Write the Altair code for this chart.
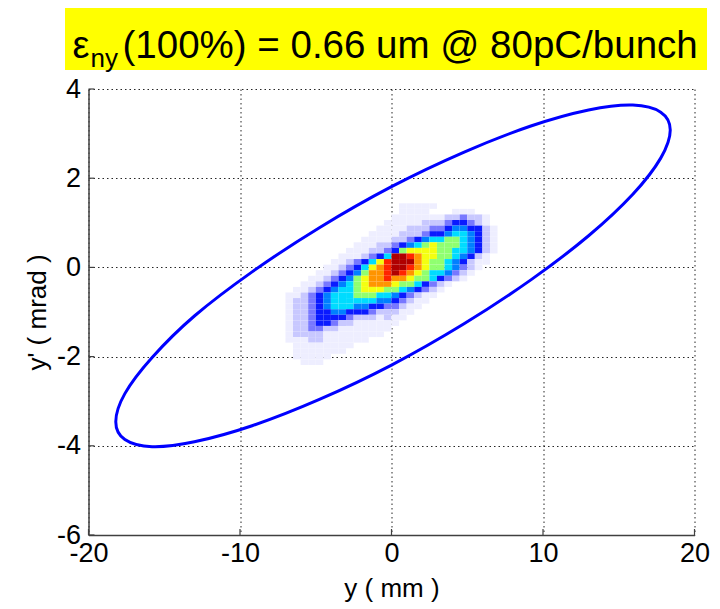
import altair as alt
import pandas as pd

FONT = "Liberation Sans"

# axis ticks
x_ticks = [-20, -10, 0, 10, 20]
y_ticks = [-6, -4, -2, 0, 2, 4]

# emittance ellipse: points (y in mm, y' in mrad)
ell_x = [18.40, 17.77, 15.93, 13.01, 9.20, 4.76, 0.00, -4.76, -9.20, -13.01, -15.80, -17.60,
         -18.20, -17.60, -15.80, -13.01, -9.20, -4.76, 0.00, 4.76, 9.20, 13.01, 15.93, 17.77]
ell_y = [3.08, 3.48, 3.64, 3.53, 3.17, 2.58, 1.81, 0.89, -0.10, -1.09, -2.02, -2.83,
         -3.46, -3.86, -4.02, -3.91, -3.55, -2.96, -2.19, -1.27, -0.28, 0.71, 1.64, 2.45]

# beam density: grid cells of 0.5 mm x 0.125 mrad
grid_x0 = -6.75   # centre of first column
grid_y0 = 1.375   # centre of first row
grid_dx = 0.5
grid_dy = 0.125
density_rows = [
    "00000000000000011111000000000",
    "00000000000000011110001110000",
    "00000000000000111111122322100",
    "00000000000001111122234432100",
    "00000000000011112223345544210",
    "00000000000111122234456654210",
    "00000000001111223456677654210",
    "00000000011122345678777654210",
    "00000000111223478888776654210",
    "00000001112346ddr988776542100",
    "0000001123468rddd987765421100",
    "0000011234689rddr987765321000",
    "0000112345799rdr9876653210000",
    "0001123457899r998776432100000",
    "00112345678999877643210000000",
    "01123456678887765432100000000",
    "11234566677766543211000000000",
    "12234566666655432110000000000",
    "12234566655443321100000000000",
    "12234455444322211000000000000",
    "12234444322212110000000000000",
    "12234432211111100000000000000",
    "12233221111111000000000000000",
    "12222111111110000000000000000",
    "11122111111000000000000000000",
    "01111111100000000000000000000",
    "01111111000000000000000000000",
    "01111100000000000000000000000",
    "00111000000000000000000000000",
]
level_codes = ["1", "2", "3", "4", "5", "6", "7", "8", "9", "r", "d"]
level_colors = ["#eeeeff", "#c8c8ff", "#7878ff", "#0a1aff", "#0080ff", "#00dcff",
                "#90ff70", "#f4ff10", "#ff9400", "#ff2400", "#b00000"]

cells = []
for j, row in enumerate(density_rows):
    yc = grid_y0 - j * grid_dy
    for i, c in enumerate(row):
        if c == "0":
            continue
        xc = grid_x0 + i * grid_dx
        cells.append(dict(x=xc - grid_dx / 2, x2=xc + grid_dx / 2,
                          y=yc - grid_dy / 2, y2=yc + grid_dy / 2, level=c))
cells_df = pd.DataFrame(cells)
ell_df = pd.DataFrame({"order": list(range(len(ell_x))), "y_mm": ell_x, "yp": ell_y})

W, H = 606, 446

xscale = alt.Scale(domain=[-20, 20], nice=False, zero=False)
yscale = alt.Scale(domain=[-6, 4], nice=False, zero=False)

common = dict(grid=True, gridDash=[1.5, 3], gridColor="#000000", gridWidth=1,
              gridOpacity=0.85, domainColor="#404040", domainWidth=1.5, ticks=False,
              labelFont=FONT, labelFontSize=27, labelColor="black",
              labelFlush=False, labelOverlap=False, labelExpr="'' + datum.value",
              titleFont=FONT, titleFontSize=26, titleFontWeight="normal", titleColor="black")
xaxis = alt.Axis(values=x_ticks, labelPadding=5, title="y ( mm )", titlePadding=9, **common)
yaxis = alt.Axis(values=y_ticks, labelPadding=8, title="y' ( mrad )", titlePadding=6, **common)

heat = alt.Chart(cells_df).mark_rect(strokeWidth=0).encode(
    x=alt.X("x:Q", scale=xscale, axis=xaxis),
    x2="x2:Q",
    y=alt.Y("y:Q", scale=yscale, axis=yaxis),
    y2="y2:Q",
    color=alt.Color("level:N", scale=alt.Scale(domain=level_codes, range=level_colors), legend=None),
)

ellipse = alt.Chart(ell_df).mark_line(interpolate="cardinal-closed", color="#0000ff", strokeWidth=3).encode(
    x=alt.X("y_mm:Q", scale=xscale),
    y=alt.Y("yp:Q", scale=yscale),
    order="order:Q",
)

# inward tick marks
xt_df = pd.DataFrame({"t": x_ticks})
yt_df = pd.DataFrame({"t": y_ticks})
xticks_m = alt.Chart(xt_df).mark_rule(color="#404040", strokeWidth=1.2).encode(
    x=alt.X("t:Q", scale=xscale), y=alt.value(H), y2=alt.value(H - 6))
yticks_m = alt.Chart(yt_df).mark_rule(color="#404040", strokeWidth=1.2).encode(
    y=alt.Y("t:Q", scale=yscale), x=alt.value(0), x2=alt.value(6))

# yellow title box with subscripted text
box = alt.Chart(pd.DataFrame({"a": [0]})).mark_rect(color="#ffff00").encode(
    x=alt.value(-23.5), x2=alt.value(618.5), y=alt.value(-81), y2=alt.value(-19))
t_eps = alt.Chart(pd.DataFrame({"s": ["ε"]})).mark_text(
    font=FONT, fontSize=38, align="left", baseline="alphabetic", color="black").encode(
    text="s:N", x=alt.value(-16), y=alt.value(-31))
t_sub = alt.Chart(pd.DataFrame({"s": ["ny"]})).mark_text(
    font=FONT, fontSize=26, align="left", baseline="alphabetic", color="black").encode(
    text="s:N", x=alt.value(2), y=alt.value(-22))
t_main = alt.Chart(pd.DataFrame({"s": ["(100%) = 0.66 um @ 80pC/bunch"]})).mark_text(
    font=FONT, fontSize=38.5, align="left", baseline="alphabetic", color="black").encode(
    text="s:N", x=alt.value(34), y=alt.value(-31))

chart = alt.layer(heat, ellipse, xticks_m, yticks_m, box, t_eps, t_sub, t_main).properties(
    width=W, height=H,
    autosize=alt.AutoSizeParams(type="none"),
    padding={"left": 88.5, "top": 89, "right": 25.5, "bottom": 74},
    background="white",
).configure_view(stroke=None)

chart.save("out.html", embed_options={"renderer": "svg", "actions": False})
